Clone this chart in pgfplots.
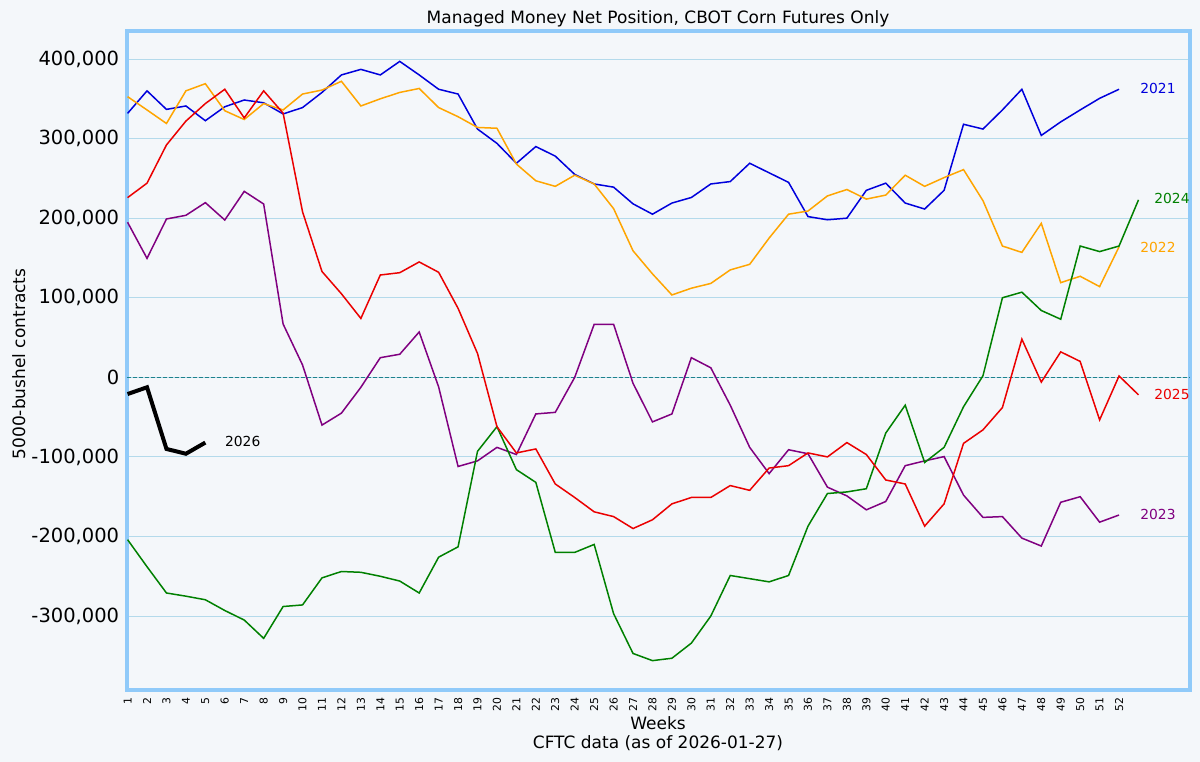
\documentclass[border=0pt]{standalone}
\usepackage{fontspec}
\setmainfont{DejaVu Sans}
\usepackage{pgfplots}
\usepackage{pgfplotstable}
\pgfplotsset{compat=1.18}

\definecolor{bgcol}{RGB}{244,247,250}
\definecolor{framecol}{RGB}{144,202,249}
\definecolor{gridcol}{RGB}{180,218,235}
\definecolor{zerocol}{RGB}{30,130,140}
\definecolor{c2021}{RGB}{0,0,220}
\definecolor{c2022}{RGB}{255,165,0}
\definecolor{c2023}{RGB}{128,0,128}
\definecolor{c2024}{RGB}{0,128,0}
\definecolor{c2025}{RGB}{235,0,0}

% net position, thousands of contracts, by week
\pgfplotstableread{
w v
1 331.7
2 360
3 336.7
4 341
5 322.5
6 340
7 348.5
8 345
9 331
10 339
11 358
12 380
13 387
14 380
15 397
16 380
17 362
18 356
19 312
20 294
21 269
22 290
23 278
24 255
25 243
26 239
27 218
28 205
29 219
30 226
31 243
32 246
33 269
34 257
35 245
36 202
37 198
38 200
39 235
40 244
41 219
42 211.5
43 235
44 318
45 312
46 336
47 362
48 304
49 321
50 336
51 350.6
52 362
}\yrA

\pgfplotstableread{
w v
1 352.7
2 336
3 319
4 360
5 369
6 335
7 324
8 344
9 336
10 356
11 361
12 372
13 341
14 350
15 358
16 363
17 339
18 327.5
19 314
20 313
21 268
22 247
23 240
24 254
25 243
26 212
27 159
28 130
29 103.5
30 112
31 118
32 135
33 142
34 175
35 205
36 209
37 228
38 236
39 224
40 229
41 254
42 240
43 251
44 261
45 222
46 165
47 157
48 193.5
49 119
50 127
51 114
52 164
}\yrB

\pgfplotstableread{
w v
1 194.8
2 149.5
3 199
4 203.6
5 219.5
6 197.7
7 233.7
8 217.8
9 67
10 15.5
11 -60
12 -45
13 -12.5
14 24.7
15 29
16 57
17 -12
18 -112
19 -105
20 -88
21 -97
22 -46
23 -44
24 0
25 66.6
26 66.6
27 -7.5
28 -56
29 -46
30 24.7
31 12
32 -35
33 -88
34 -121
35 -91
36 -96
37 -138
38 -149
39 -166.5
40 -156
41 -111
42 -105
43 -99.6
44 -148
45 -176
46 -175
47 -202
48 -212
49 -157
50 -150
51 -182
52 -173
}\yrC

\pgfplotstableread{
w v
1 -204
2 -238
3 -271
4 -275
5 -279.5
6 -293
7 -305
8 -328
9 -288
10 -286
11 -252
12 -244
13 -245
14 -250
15 -256
16 -271
17 -226
18 -213
19 -93
20 -62
21 -116
22 -132
23 -220
24 -220
25 -210
26 -297
27 -347
28 -356
29 -353
30 -334
31 -300
32 -249
33 -253
34 -257
35 -249
36 -187
37 -146
38 -144
39 -140
40 -70
41 -35
42 -107
43 -88
44 -37
45 2
46 100
47 107
48 84
49 73
50 165
51 158
52 165
53 223
}\yrD

\pgfplotstableread{
w v
1 225.8
2 244
3 292
4 322
5 344
6 362
7 326
8 360
9 332
10 208
11 133
12 105
13 74
14 128.6
15 131.5
16 145
17 132
18 86.7
19 30
20 -62
21 -95
22 -90
23 -134
24 -151
25 -169
26 -175
27 -190
28 -179
29 -159
30 -151
31 -151
32 -136
33 -142
34 -114
35 -111
36 -95
37 -100
38 -82
39 -97
40 -129
41 -134
42 -187
43 -159
44 -83
45 -66
46 -38
47 48
48 -6
49 32
50 20
51 -53.5
52 1.7
53 -22
}\yrE

\pgfplotstableread{
w v
1 -21
2 -12.5
3 -90
4 -96
5 -82
}\yrF

\begin{document}
\begin{tikzpicture}
\path[use as bounding box, fill=bgcol] (0,0) rectangle (720pt,457.2pt);

\begin{axis}[
    at={(76.2pt,43.2pt)}, anchor=south west,
    scale only axis,
    width=637.8pt, height=395.1pt,
    xmin=0.97, xmax=55.65,
    ymin=-392.9, ymax=434.6,
    axis background/.style={fill=bgcol},
    axis line style={draw=framecol, line width=2.4pt},
    major tick length=0pt,
    /pgf/number format/assume math mode=true,
    xtick={1,...,52},
    xticklabel style={font=\fontsize{6.5}{7.5}\selectfont, rotate=90, anchor=east, inner sep=0pt},
    xticklabel shift=4.5pt,
    ytick={-300,-200,...,400},
    yticklabels={{-300,000},{-200,000},{-100,000},{0},{100,000},{200,000},{300,000},{400,000}},
    yticklabel style={font=\fontsize{11.7}{14}\selectfont, inner sep=0pt},
    yticklabel shift=4.5pt,
    ymajorgrids=true,
    grid style={draw=gridcol, line width=0.6pt},
    every axis plot/.append style={line width=0.9pt},
]
\addplot[zerocol, line width=0.65pt, dash pattern=on 2.4pt off 1.2pt, forget plot]
    coordinates {(0.97,0) (55.65,0)};

\addplot[c2021] table[x=w, y=v] {\yrA};
\addplot[c2022] table[x=w, y=v] {\yrB};
\addplot[c2023] table[x=w, y=v] {\yrC};
\addplot[c2024] table[x=w, y=v] {\yrD};
\addplot[c2025] table[x=w, y=v] {\yrE};
\addplot[black, line width=2.4pt] table[x=w, y=v] {\yrF};

\begin{scope}[every node/.style={anchor=west, inner sep=0pt, font=\fontsize{8.3}{10}\selectfont}]
\node[text=c2021] at (axis cs:53.08,363.5) {2021};
\node[text=c2022] at (axis cs:53.08,163.7) {2022};
\node[text=c2023] at (axis cs:53.08,-172) {2023};
\node[text=c2024] at (axis cs:53.8,225) {2024};
\node[text=c2025] at (axis cs:53.8,-22) {2025};
\node[text=black] at (axis cs:6,-81) {2026};
\end{scope}
\end{axis}

\node[anchor=base, font=\fontsize{10.2}{12}\selectfont] at (394.8pt,443.2pt)
    {Managed Money Net Position, CBOT Corn Futures Only};
\node[anchor=base, font=\fontsize{10.2}{12}\selectfont] at (394.8pt,19.2pt) {Weeks};
\node[anchor=base, font=\fontsize{10.2}{12}\selectfont] at (394.8pt,7.8pt) {CFTC data (as of 2026-01-27)};
\node[anchor=base, rotate=90, font=\fontsize{10.2}{12}\selectfont] at (15pt,238.8pt) {5000-bushel contracts};
\end{tikzpicture}
\end{document}
